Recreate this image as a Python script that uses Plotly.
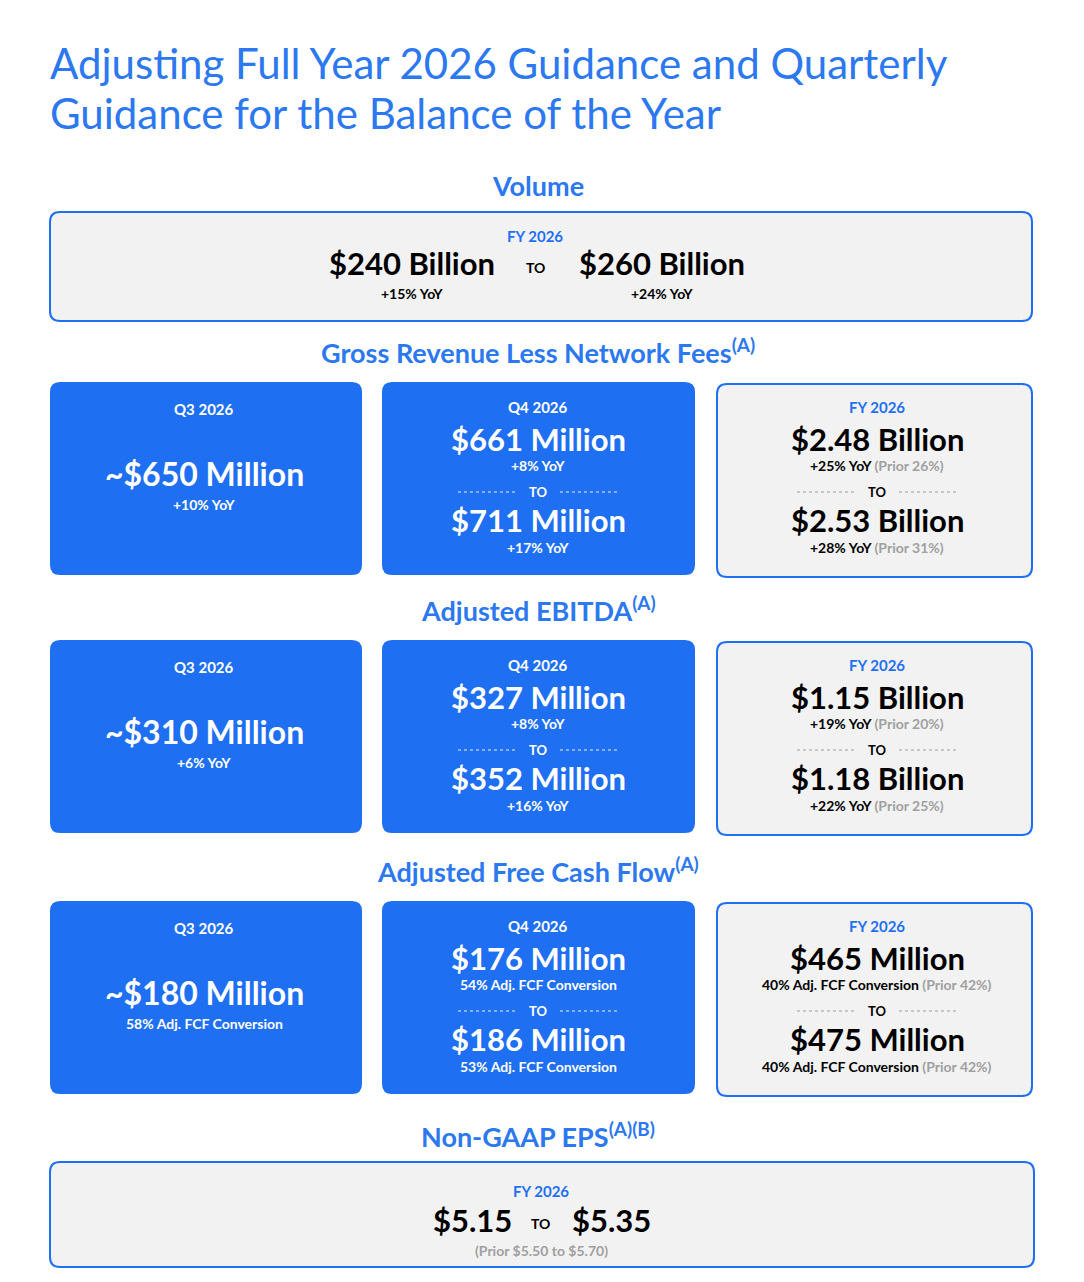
import plotly.graph_objects as go

W, H = 1084, 1282
BLUE = "#1f6ff2"
TITLE_BLUE = "#2b78f0"
GREY_BG = "#f2f2f2"
PRIOR = "#a0a0a0"
FONT = "Lato"

title_lines = ["Adjusting Full Year 2026 Guidance and Quarterly", "Guidance for the Balance of the Year"]

section_titles = ["Gross Revenue Less Network Fees<sup>(A)</sup>",
                  "Adjusted EBITDA<sup>(A)</sup>",
                  "Adjusted Free Cash Flow<sup>(A)</sup>"]
row_tops = [382, 640, 901]

q3_values = ["~$650 Million", "~$310 Million", "~$180 Million"]
q3_notes = ["+10% YoY", "+6% YoY", "58% Adj. FCF Conversion"]

q4_low = ["$661 Million", "$327 Million", "$176 Million"]
q4_low_notes = ["+8% YoY", "+8% YoY", "54% Adj. FCF Conversion"]
q4_high = ["$711 Million", "$352 Million", "$186 Million"]
q4_high_notes = ["+17% YoY", "+16% YoY", "53% Adj. FCF Conversion"]

fy_low = ["$2.48 Billion", "$1.15 Billion", "$465 Million"]
fy_low_notes = ["+25% YoY", "+19% YoY", "40% Adj. FCF Conversion"]
fy_low_prior = ["(Prior 26%)", "(Prior 20%)", "(Prior 42%)"]
fy_high = ["$2.53 Billion", "$1.18 Billion", "$475 Million"]
fy_high_notes = ["+28% YoY", "+22% YoY", "40% Adj. FCF Conversion"]
fy_high_prior = ["(Prior 31%)", "(Prior 25%)", "(Prior 42%)"]

volume_range = ["$240 Billion", "$260 Billion"]
volume_notes = ["+15% YoY", "+24% YoY"]
eps_range = ["$5.15", "$5.35"]
eps_prior = "(Prior $5.50 to $5.70)"

fig = go.Figure()
shapes, annots = [], []


def box(x0, y0, x1, y1, fill, line, r=10):
    p = (f"M{x0+r},{y0} L{x1-r},{y0} Q{x1},{y0} {x1},{y0+r} L{x1},{y1-r} Q{x1},{y1} {x1-r},{y1} "
         f"L{x0+r},{y1} Q{x0},{y1} {x0},{y1-r} L{x0},{y0+r} Q{x0},{y0} {x0+r},{y0} Z")
    shapes.append(dict(type="path", path=p, fillcolor=fill,
                       line=dict(color=line, width=2 if line != fill else 0), layer="below"))


def txt(x, y, s, size, color, bold=True, xanchor="center"):
    annots.append(dict(x=x, y=y, text=f"<b>{s}</b>" if bold else s, showarrow=False,
                       xanchor=xanchor, yanchor="middle",
                       font=dict(family=FONT, size=size, color=color)))


def to_sep(cx, y, color, dotcol):
    txt(cx, y, "TO", 13, color)
    for a, b in [(cx - 80, cx - 22), (cx + 22, cx + 80)]:
        shapes.append(dict(type="line", x0=a, x1=b, y0=y, y1=y,
                           line=dict(color=dotcol, width=2, dash="dot")))


# title
for i, t in enumerate(title_lines):
    txt(48, 63 + i * 50, t, 42, TITLE_BLUE, bold=False, xanchor="left")

# volume
txt(538, 185, "Volume", 27, TITLE_BLUE)
box(50, 212, 1032, 321, GREY_BG, BLUE)
txt(535, 236, "FY 2026", 15, BLUE)
for cx, v, n in zip([412, 662], volume_range, volume_notes):
    txt(cx, 263, v, 31, "black")
    txt(cx, 293, n, 14, "black")
txt(535, 267, "TO", 14, "black")

# three rows
for i, top in enumerate(row_tops):
    txt(538, top - 31, section_titles[i], 27, TITLE_BLUE)
    # Q3
    box(50, top, 362, top + 193, BLUE, BLUE)
    txt(204, top + 27, "Q3 2026", 15, "white")
    txt(204, top + 91, q3_values[i], 32, "white")
    txt(204, top + 122, q3_notes[i], 14, "white")
    # Q4
    box(382, top, 695, top + 193, BLUE, BLUE)
    cx = 538
    txt(cx, top + 25, "Q4 2026", 15, "white")
    txt(cx, top + 57, q4_low[i], 31, "white")
    txt(cx, top + 83, q4_low_notes[i], 14, "white")
    to_sep(cx, top + 110, "white", "rgba(255,255,255,0.45)")
    txt(cx, top + 138, q4_high[i], 31, "white")
    txt(cx, top + 165, q4_high_notes[i], 14, "white")
    # FY
    box(717, top + 2, 1032, top + 195, GREY_BG, BLUE)
    cx = 877
    txt(cx, top + 25, "FY 2026", 15, BLUE)
    txt(cx, top + 57, fy_low[i], 31, "black")
    txt(cx, top + 83, f"{fy_low_notes[i]} <span style='color:{PRIOR}'>{fy_low_prior[i]}</span>", 14, "black")
    to_sep(cx, top + 110, "black", "#c8c8c8")
    txt(cx, top + 138, fy_high[i], 31, "black")
    txt(cx, top + 165, f"{fy_high_notes[i]} <span style='color:{PRIOR}'>{fy_high_prior[i]}</span>", 14, "black")

# EPS
txt(538, 1135, "Non-GAAP EPS<sup>(A)(B)</sup>", 27, TITLE_BLUE)
box(50, 1162, 1034, 1267, GREY_BG, BLUE)
txt(541, 1191, "FY 2026", 15, BLUE)
for cx, v in zip([472, 611], eps_range):
    txt(cx, 1220, v, 31, "black")
txt(540, 1223, "TO", 14, "black")
txt(541, 1250, eps_prior, 14, PRIOR)

fig.update_layout(width=W, height=H, margin=dict(l=0, r=0, t=0, b=0),
                  paper_bgcolor="white", plot_bgcolor="white",
                  shapes=shapes, annotations=annots, showlegend=False,
                  xaxis=dict(range=[0, W], visible=False, fixedrange=True),
                  yaxis=dict(range=[H, 0], visible=False, fixedrange=True))
fig.write_html("out.html", config={"displayModeBar": False})

# drop the default page margin so the figure sits at the window origin
with open("out.html", encoding="utf-8") as f:
    page = f.read()
page = page.replace("<body>", "<body style=\"margin:0\">", 1)
with open("out.html", "w", encoding="utf-8") as f:
    f.write(page)
